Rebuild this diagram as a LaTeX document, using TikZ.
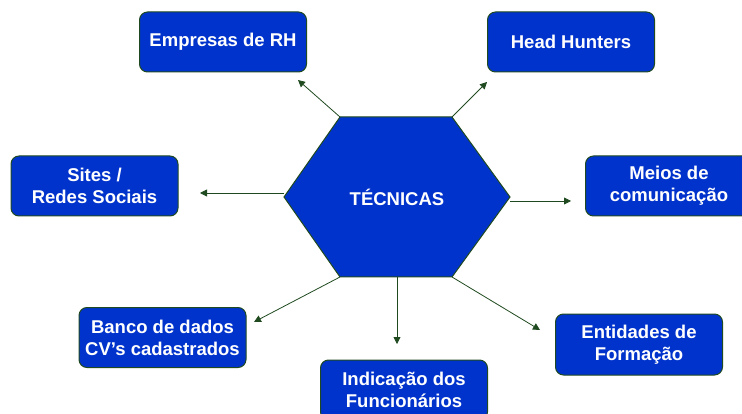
\documentclass[tikz,border=0pt]{standalone}
\usepackage{fontspec}
\setmainfont{Liberation Sans}
\usetikzlibrary{arrows.meta}
\definecolor{boxblue}{HTML}{0033CC}
\definecolor{edgegreen}{HTML}{1F4A1F}
\begin{document}
\begin{tikzpicture}[x=1pt,y=-1pt,
  box/.style={draw=edgegreen, line width=1pt, fill=boxblue, rounded corners=8pt,
    minimum width=167pt, minimum height=60pt, inner sep=0pt,
    text=white, font=\bfseries\fontsize{18.5}{22}\selectfont, align=center},
  conn/.style={draw=edgegreen, line width=0.8pt, -{Triangle[length=7pt,width=7pt]}}]
\useasboundingbox (0,0) rectangle (742,414);
% hexagon
\coordinate (hTL) at (340,117);
\coordinate (hTR) at (452,117);
\coordinate (hR) at (510,197);
\coordinate (hBR) at (452,277);
\coordinate (hBL) at (340,277);
\coordinate (hL) at (284,197);
\coordinate (hB) at (397,277);
\fill[boxblue, draw=edgegreen, line width=1pt] (hTL) -- (hTR) -- (hR) -- (hBR) -- (hBL) -- (hL) -- cycle;
\node[text=white, font=\bfseries\fontsize{18.5}{22}\selectfont] (tec) at (397,197) {TÉCNICAS};
% boxes
\node[box] (emp) at (223,42) {Empresas de RH};
\node[box] (head) at (571,42) {Head Hunters};
\node[box] (sites) at (94.5,186) {Sites /\\Redes Sociais};
\node[box] (meios) at (669,186) {Meios de\\comunicação};
\node[box] (banco) at (162.5,337.5) {Banco de dados\\CV’s cadastrados};
\node[box] (ind) at (404,390) {Indicação dos\\Funcionários};
\node[box, minimum height=61pt] (ent) at (639,344.5) {Entidades de\\Formação};
% arrow tips
\coordinate (tEmp) at (298,80);
\coordinate (tHead) at (487,82);
\coordinate (tSites) at (200,193);
\coordinate (tMeios) at (571,201);
\coordinate (tBanco) at (254,322);
\coordinate (tInd) at (397,344);
\coordinate (tEnt) at (540,330);
\coordinate (sL) at (284,193);
\coordinate (sR) at (510,201);
\draw[conn] (hTL) -- (tEmp);
\draw[conn] (hTR) -- (tHead);
\draw[conn] (sL) -- (tSites);
\draw[conn] (sR) -- (tMeios);
\draw[conn] (hBL) -- (tBanco);
\draw[conn] (hB) -- (tInd);
\draw[conn] (hBR) -- (tEnt);
\end{tikzpicture}
\end{document}
